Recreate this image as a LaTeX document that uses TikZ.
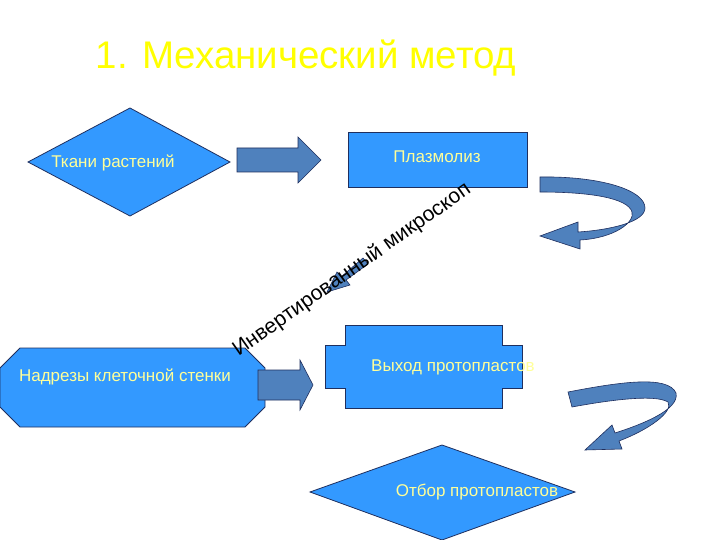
\documentclass[tikz,border=0pt]{standalone}
\usepackage{fontspec}
\setmainfont{Liberation Sans}
\usetikzlibrary{shapes.geometric,shapes.arrows}
\definecolor{boxfill}{HTML}{3399FF}
\definecolor{arrfill}{HTML}{4F81BD}
\definecolor{edge}{HTML}{1F2F5F}
\definecolor{txt}{HTML}{FFFF99}
\begin{document}
\begin{tikzpicture}[x=1pt,y=-1pt,
  shp/.style={fill=boxfill,draw=edge,line width=0.8pt},
  arr/.style={fill=arrfill,draw=edge,line width=0.6pt},
  lbl/.style={text=txt,font=\fontsize{17}{20}\selectfont,inner sep=0pt}]
\useasboundingbox (0,0) rectangle (720,540);
\fill[white] (0,0) rectangle (720,540);
\node[text={rgb,255:red,255;green,255;blue,0},font=\fontsize{38.5}{44}\selectfont,inner sep=0pt] (title) at (306,58) {1. Механический метод};
% diamond 1
\draw[shp] (28,162) -- (130,108) -- (230,162) -- (130,216) -- cycle;
\node[lbl] (t1) at (113,163) {Ткани растений};
% arrow 1
\draw[arr] (237,148) -- (298,148) -- (298,137) -- (321,160) -- (298,183) -- (298,172) -- (237,172) -- cycle;
% plasmolysis
\draw[shp] (348,132) rectangle (527,187);
\node[lbl] (t2) at (437,157) {Плазмолиз};
% curved arrow 1
\draw[arr] (540,177) .. controls (600,176) and (645,190) .. (645,208)
  .. controls (645,222) and (610,230) .. (578,232) -- (578,222) -- (540,236) -- (580,249) -- (580,240)
  .. controls (615,238) and (635,222) .. (632,212)
  .. controls (628,198) and (590,192) .. (540,192) -- cycle;
% diagonal small arrow
\draw[arr] (368,264) -- (346,280) -- (350,285) -- (327,292) -- (337,272) -- (341,277) -- (363,258) -- cycle;
% octagon
\draw[shp] (20,348) -- (245,348) -- (265,368) -- (265,407) -- (245,427) -- (20,427) -- (0,407) -- (0,368) -- cycle;
\node[lbl] (t3) at (125,377) {Надрезы клеточной стенки};
% arrow 2
\draw[arr] (258,370) -- (300,370) -- (300,360) -- (313,385) -- (300,410) -- (300,400) -- (258,400) -- cycle;
% cross shape
\draw[shp] (345,325) -- (502,325) -- (502,345) -- (522,345) -- (522,388) -- (502,388) -- (502,408) -- (345,408) -- (345,388) -- (325,388) -- (325,345) -- (345,345) -- cycle;
\node[lbl] (t4) at (453,367) {Выход протопластов};
% curved arrow 2
\draw[arr] (568,392) .. controls (620,382) and (668,375) .. (676,393)
  .. controls (680,410) and (640,425) .. (615,433) -- (612,425) -- (585,450) -- (622,449) -- (619,441)
  .. controls (648,430) and (674,412) .. (668,402)
  .. controls (655,394) and (610,400) .. (572,407) -- cycle;
% diamond 2
\draw[shp] (310,492) -- (442,445) -- (575,492) -- (442,540) -- cycle;
\node[lbl] (t5) at (477,492) {Отбор протопластов};
\node[rotate=35.2,font=\fontsize{21}{25}\selectfont,inner sep=0pt] (mic) at (352,270) {Инвертированный микроскоп};
\end{tikzpicture}
\end{document}
